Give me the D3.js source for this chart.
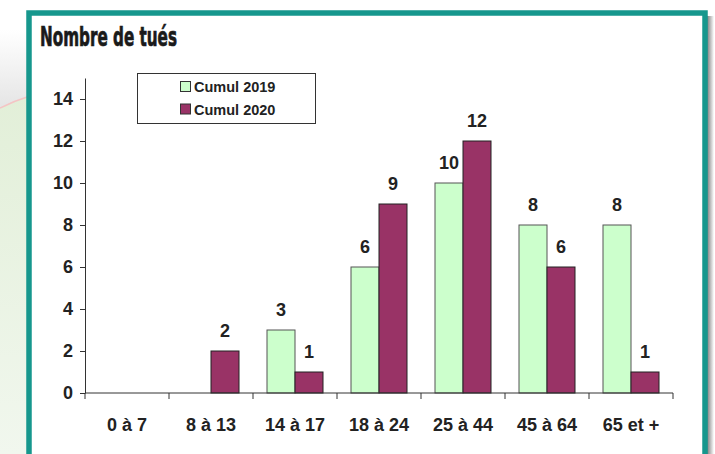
<!DOCTYPE html>
<meta charset="utf-8">
<script src="https://d3js.org/d3.v7.min.js"></script>
<style>
  body { margin: 0; background: #fff; }
  text { font-family: "Liberation Sans", Arial, sans-serif; fill: #222; }
</style>
<div id="my_dataviz"></div>
<script>
  // data
  const categories = ["0 à 7", "8 à 13", "14 à 17", "18 à 24", "25 à 44", "45 à 64", "65 et +"];
  const series = ["Cumul 2019", "Cumul 2020"];
  const cumul2019 = [0, 0, 3, 6, 10, 8, 8];
  const cumul2020 = [0, 2, 1, 9, 12, 6, 1];
  const yTicks = [0, 2, 4, 6, 8, 10, 12, 14];

  const colors = {"Cumul 2019": "#ccffcc", "Cumul 2020": "#993366"};
  const strokes = {"Cumul 2019": "#555", "Cumul 2020": "#222"};

  const W = 715, H = 454;
  const svg = d3.select("#my_dataviz")
    .append("svg")
      .attr("width", W)
      .attr("height", H);

  // background outside the frame
  const defs = svg.append("defs");
  const g1 = defs.append("linearGradient").attr("id", "bgTop")
    .attr("x1", 0).attr("y1", 0).attr("x2", 0).attr("y2", 1);
  g1.append("stop").attr("offset", "0%").attr("stop-color", "#ffffff");
  g1.append("stop").attr("offset", "100%").attr("stop-color", "#e4e4e4");
  const g2 = defs.append("linearGradient").attr("id", "bgGreen")
    .attr("x1", 0).attr("y1", 0).attr("x2", 0).attr("y2", 1);
  g2.append("stop").attr("offset", "0%").attr("stop-color", "#e2efd8");
  g2.append("stop").attr("offset", "100%").attr("stop-color", "#f1f7ee");
  const g3 = defs.append("linearGradient").attr("id", "shadow")
    .attr("x1", 0).attr("y1", 0).attr("x2", 1).attr("y2", 0);
  g3.append("stop").attr("offset", "0%").attr("stop-color", "#6a6a6a");
  g3.append("stop").attr("offset", "100%").attr("stop-color", "#ffffff");

  svg.append("rect").attr("x", 0).attr("y", 30).attr("width", 30).attr("height", 80)
    .attr("fill", "url(#bgTop)");
  svg.append("path")
    .attr("d", "M0,108 Q14,101 30,96 L30,454 L0,454 Z")
    .attr("fill", "url(#bgGreen)");
  svg.append("path")
    .attr("d", "M0,108 Q14,101 30,96")
    .attr("fill", "none").attr("stroke", "#f4c4c4").attr("stroke-width", 1.5);

  // shadow on the right
  svg.append("rect").attr("x", 706).attr("y", 16).attr("width", 8).attr("height", H)
    .attr("fill", "url(#shadow)");

  // frame
  svg.append("rect")
    .attr("x", 29).attr("y", 13)
    .attr("width", 676).attr("height", 520)
    .attr("fill", "#fff")
    .attr("stroke", "#16978d")
    .attr("stroke-width", 5.5);

  // title
  svg.append("text")
    .attr("x", 40).attr("y", 45.5)
    .attr("textLength", 137)
    .attr("lengthAdjust", "spacingAndGlyphs")
    .style("font-family", "'Liberation Sans Narrow', 'DejaVu Sans Condensed', 'Liberation Sans', sans-serif")
    .style("font-weight", "bold")
    .style("font-size", "27px")
    .style("fill", "#1a1a1a")
    .style("stroke", "#1a1a1a")
    .style("stroke-width", 0.7)
    .text("Nombre de tués");

  // scales
  const x = d3.scaleBand()
    .domain(categories)
    .range([85, 673])
    .padding(0);
  const x1 = d3.scaleBand()
    .domain(series)
    .range([0, x.bandwidth()])
    .paddingInner(0)
    .paddingOuter(0.5);
  const y = d3.scaleLinear()
    .domain([0, 15])
    .range([393, 78]);

  // Y axis
  const yAxis = svg.append("g")
    .attr("transform", "translate(85,0)")
    .call(d3.axisLeft(y).tickValues(yTicks).tickSize(5).tickSizeOuter(0).tickPadding(7));
  yAxis.select(".domain").attr("stroke", "#333");
  yAxis.selectAll(".tick line").attr("stroke", "#333");
  yAxis.selectAll("text")
    .style("font-size", "18px").style("font-weight", "bold")
    .style("fill", "#222").style("font-family", "'Liberation Sans', Arial, sans-serif");

  // bars
  const data = categories.map((c, i) => ({cat: c, values: [
    {key: "Cumul 2019", v: cumul2019[i]},
    {key: "Cumul 2020", v: cumul2020[i]}
  ]}));

  const groups = svg.selectAll("g.cat")
    .data(data)
    .join("g")
      .attr("class", "cat")
      .attr("transform", d => `translate(${x(d.cat)},0)`);

  groups.selectAll("rect")
    .data(d => d.values.filter(e => e.v > 0))
    .join("rect")
      .attr("x", d => x1(d.key))
      .attr("y", d => y(d.v))
      .attr("width", x1.bandwidth())
      .attr("height", d => y(0) - y(d.v))
      .attr("fill", d => colors[d.key])
      .attr("stroke", d => strokes[d.key])
      .attr("stroke-width", 1);

  groups.selectAll("text.val")
    .data(d => d.values.filter(e => e.v > 0))
    .join("text")
      .attr("class", "val")
      .attr("x", d => x1(d.key) + x1.bandwidth() / 2)
      .attr("y", d => y(d.v) - 14)
      .attr("text-anchor", "middle")
      .style("font-size", "18px")
      .style("font-weight", "bold")
      .text(d => d.v);

  // X axis: line, ticks at band edges, centered labels
  const xAxis = svg.append("g");
  xAxis.append("line")
    .attr("x1", x.range()[0]).attr("x2", x.range()[1])
    .attr("y1", y(0)).attr("y2", y(0))
    .attr("stroke", "#333");
  const edges = categories.map(c => x(c)).concat([x.range()[1]]);
  xAxis.selectAll("line.tick")
    .data(edges)
    .join("line")
      .attr("class", "tick")
      .attr("x1", d => d).attr("x2", d => d)
      .attr("y1", y(0)).attr("y2", y(0) + 6)
      .attr("stroke", "#333");
  xAxis.selectAll("text")
    .data(categories)
    .join("text")
      .attr("x", d => x(d) + x.bandwidth() / 2)
      .attr("y", 431)
      .attr("text-anchor", "middle")
      .style("font-size", "18px")
      .style("font-weight", "bold")
      .text(d => d);

  // legend
  const legend = svg.append("g");
  legend.append("rect")
    .attr("x", 137.5).attr("y", 73.5)
    .attr("width", 178).attr("height", 50)
    .attr("fill", "#fff")
    .attr("stroke", "#333");
  const li = legend.selectAll("g.item")
    .data(series)
    .join("g")
      .attr("class", "item")
      .attr("transform", (d, i) => `translate(180,${81 + i * 22.5})`);
  li.append("rect")
    .attr("x", 0.5).attr("y", 0.5)
    .attr("width", 10).attr("height", 10)
    .attr("fill", d => colors[d])
    .attr("stroke", "#333");
  li.append("text")
    .attr("x", 14).attr("y", 11)
    .style("font-size", "14.5px")
    .style("font-weight", "bold")
    .text(d => d);
</script>
